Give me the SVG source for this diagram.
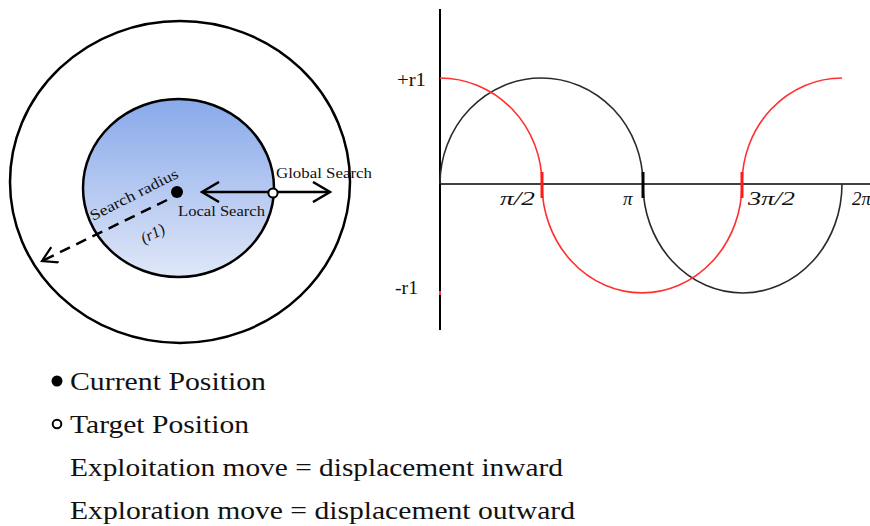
<svg xmlns="http://www.w3.org/2000/svg" width="870" height="526" viewBox="0 0 870 526">
<style>
.t{font-family:"Liberation Serif","Times New Roman",serif;fill:#111}
.ln{fill:none;stroke:#000;stroke-width:2.5}
.red{fill:none;stroke:#ff3030;stroke-width:1.6}
.blk{fill:none;stroke:#2a2a2a;stroke-width:1.6}
</style>
<defs>
<linearGradient id="g" x1="0" y1="0" x2="0" y2="1">
<stop offset="0" stop-color="#88a9ea"/>
<stop offset="1" stop-color="#e0e7f8"/>
</linearGradient>
<marker id="chev" viewBox="0 0 20 22" refX="18" refY="11" markerWidth="20" markerHeight="22" markerUnits="userSpaceOnUse" orient="auto-start-reverse">
<path d="M1,1 L18,11 L1,21" fill="none" stroke="#000" stroke-width="2.5"/>
</marker>
<marker id="chev2" viewBox="0 0 20 22" refX="18" refY="11" markerWidth="17" markerHeight="19" markerUnits="userSpaceOnUse" orient="auto">
<path d="M1,1 L18,11 L1,21" fill="none" stroke="#000" stroke-width="2.6"/>
</marker>
</defs>

<g id="outer-circle">
<ellipse cx="180" cy="182" rx="170" ry="161" class="ln"/>
</g>
<g id="inner-circle">
<ellipse cx="178.5" cy="188" rx="95.5" ry="89" fill="url(#g)" stroke="#000" stroke-width="2.5"/>
</g>

<g id="connectors">
<line x1="202" y1="192" x2="330" y2="192" class="ln" marker-start="url(#chev)" marker-end="url(#chev)"/>
<line x1="167" y1="200" x2="42" y2="261" fill="none" stroke="#000" stroke-width="2.5" stroke-dasharray="11,7" marker-end="url(#chev2)"/>
</g>

<g id="current-position">
<circle cx="177" cy="192" r="6" fill="#000"/>
</g>
<g id="target-position">
<circle cx="273" cy="193" r="4.6" fill="#fff" stroke="#000" stroke-width="2"/>
</g>

<g id="labels-left">
<text class="t" x="276" y="178" font-size="15" textLength="96" lengthAdjust="spacingAndGlyphs">Global Search</text>
<text class="t" x="178" y="216" font-size="15" textLength="87" lengthAdjust="spacingAndGlyphs">Local Search</text>
<text class="t" font-size="15" transform="translate(93,221) rotate(-27)" textLength="97" lengthAdjust="spacingAndGlyphs">Search radius</text>
<text class="t" font-size="16" font-style="italic" transform="translate(144,244) rotate(-27)" textLength="25" lengthAdjust="spacingAndGlyphs">(r1)</text>
</g>

<g id="plot">
<line x1="440" y1="9" x2="440" y2="330" stroke="#000" stroke-width="2"/>
<line x1="440" y1="184" x2="870" y2="184" stroke="#000" stroke-width="1.6"/>
<path class="blk" d="M440,184 A101.5,106 0 0 1 643,184 A99.5,109 0 0 0 842,184"/>
<path class="red" d="M440,78 A102,106 0 0 1 542,184 A100,109 0 0 0 742,184 A100,106 0 0 1 842,78"/>
<line x1="542" y1="172" x2="542" y2="198" stroke="#ff1a1a" stroke-width="3"/>
<line x1="643" y1="172" x2="643" y2="198" stroke="#000" stroke-width="3"/>
<line x1="742" y1="172" x2="742" y2="198" stroke="#ff1a1a" stroke-width="3"/>
<line x1="440" y1="291" x2="440" y2="295" stroke="#ff3030" stroke-width="2"/>
<text class="t" x="397" y="86" font-size="19" textLength="29" lengthAdjust="spacingAndGlyphs">+r1</text>
<text class="t" x="395" y="294" font-size="19" textLength="23" lengthAdjust="spacingAndGlyphs">-r1</text>
<text class="t" x="500" y="205" font-size="19" font-style="italic" textLength="35" lengthAdjust="spacingAndGlyphs">π/2</text>
<text class="t" x="623" y="205" font-size="19" font-style="italic">π</text>
<text class="t" x="748" y="205" font-size="19" font-style="italic" textLength="47" lengthAdjust="spacingAndGlyphs">3π/2</text>
<text class="t" x="852" y="205" font-size="19" font-style="italic">2π</text>
</g>

<g id="legend">
<circle cx="57" cy="381" r="5.5" fill="#000"/>
<circle cx="57" cy="424" r="4.3" fill="#fff" stroke="#000" stroke-width="2"/>
<text class="t" x="70" y="390" font-size="25.5" textLength="196" lengthAdjust="spacingAndGlyphs">Current Position</text>
<text class="t" x="70" y="433" font-size="25.5" textLength="179" lengthAdjust="spacingAndGlyphs">Target Position</text>
<text class="t" x="70" y="476" font-size="25.5" textLength="493" lengthAdjust="spacingAndGlyphs">Exploitation move = displacement inward</text>
<text class="t" x="70" y="519" font-size="25.5" textLength="505" lengthAdjust="spacingAndGlyphs">Exploration move = displacement outward</text>
</g>
</svg>
